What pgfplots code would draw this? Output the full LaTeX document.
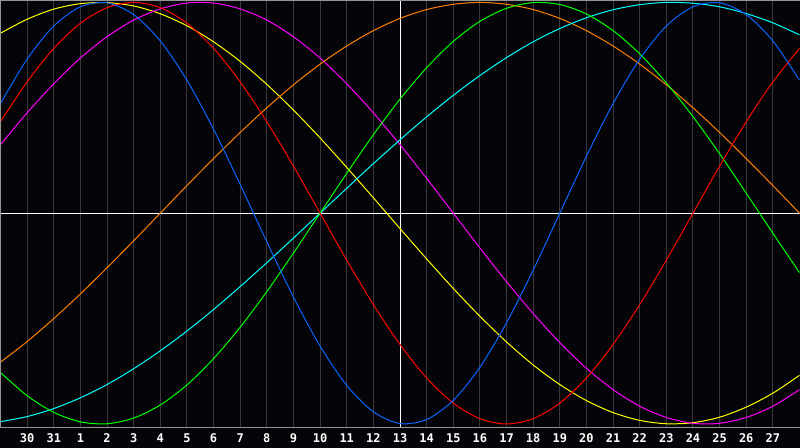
\documentclass[border=0pt]{standalone}
\usepackage{pgfplots}
\pgfplotsset{compat=1.18}
\usepackage{fontspec}
\setmonofont{DejaVu Sans Mono}

\definecolor{bg}{RGB}{5,5,9}
\definecolor{gridc}{RGB}{58,58,62}
\definecolor{framec}{RGB}{150,150,150}
\definecolor{cyellow}{RGB}{255,255,0}
\definecolor{cblue}{RGB}{10,100,255}
\definecolor{cred}{RGB}{255,0,0}
\definecolor{cmagenta}{RGB}{255,0,255}
\definecolor{corange}{RGB}{255,128,0}
\definecolor{cgreen}{RGB}{0,255,0}
\definecolor{ccyan}{RGB}{0,255,255}

\begin{document}
\begin{tikzpicture}
\fill[bg] (0pt,-20pt) rectangle (800pt,428pt);
\begin{axis}[
    at={(0pt,0pt)}, anchor=south west,
    scale only axis, width=800pt, height=428pt,
    xmin=0, xmax=30, ymin=-1.019, ymax=1.009,
    axis line style={draw=none},
    xtick={1,...,29},
    xticklabels={30,31,1,2,3,4,5,6,7,8,9,10,11,12,13,14,15,16,17,18,19,20,21,22,23,24,25,26,27},
    ytick=\empty,
    major tick length=0pt,
    xmajorgrids, grid style={gridc, line width=1pt},
    xticklabel style={text=white, font=\ttfamily\bfseries\fontsize{12}{12}\selectfont, anchor=north, yshift=-2pt},
    every axis plot/.append style={line width=1pt, smooth, no markers},
]
\draw[white, line width=1pt] (axis cs:15,-1.1) -- (axis cs:15,1.1);
\draw[white, line width=1pt] (axis cs:0,0) -- (axis cs:30,0);

% 43 days
\addplot[cyellow] coordinates {(0,0.854)(1,0.920)(2,0.968)(3,0.994)(4,0.999)(5,0.983)(6,0.946)(7,0.889)(8,0.813)(9,0.720)(10,0.611)(11,0.489)(12,0.357)(13,0.217)(14,0.073)(15,-0.073)(16,-0.217)(17,-0.357)(18,-0.489)(19,-0.611)(20,-0.720)(21,-0.813)(22,-0.889)(23,-0.946)(24,-0.983)(25,-0.999)(26,-0.994)(27,-0.968)(28,-0.920)(29,-0.854)(30,-0.769)};
% 38 days
\addplot[cmagenta] coordinates {(0,0.325)(1,0.476)(2,0.614)(3,0.736)(4,0.837)(5,0.916)(6,0.969)(7,0.997)(8,0.997)(9,0.969)(10,0.916)(11,0.837)(12,0.736)(13,0.614)(14,0.476)(15,0.325)(16,0.165)(17,0)(18,-0.165)(19,-0.325)(20,-0.476)(21,-0.614)(22,-0.736)(23,-0.837)(24,-0.916)(25,-0.969)(26,-0.997)(27,-0.997)(28,-0.969)(29,-0.916)(30,-0.837)};
% 48 days
\addplot[corange] coordinates {(0,-0.707)(1,-0.609)(2,-0.5)(3,-0.383)(4,-0.259)(5,-0.131)(6,0)(7,0.131)(8,0.259)(9,0.383)(10,0.5)(11,0.609)(12,0.707)(13,0.793)(14,0.866)(15,0.924)(16,0.966)(17,0.991)(18,1)(19,0.991)(20,0.966)(21,0.924)(22,0.866)(23,0.793)(24,0.707)(25,0.609)(26,0.5)(27,0.383)(28,0.259)(29,0.131)(30,0)};
% 53 days
\addplot[ccyan] coordinates {(0,-0.989)(1,-0.965)(2,-0.927)(3,-0.876)(4,-0.813)(5,-0.738)(6,-0.653)(7,-0.559)(8,-0.457)(9,-0.348)(10,-0.235)(11,-0.118)(12,0)(13,0.118)(14,0.235)(15,0.348)(16,0.457)(17,0.559)(18,0.653)(19,0.738)(20,0.813)(21,0.876)(22,0.927)(23,0.965)(24,0.989)(25,1.000)(26,0.996)(27,0.979)(28,0.947)(29,0.903)(30,0.846)};
% 33 days
\addplot[cgreen] coordinates {(0,-0.756)(1,-0.866)(2,-0.945)(3,-0.990)(4,-0.999)(5,-0.972)(6,-0.910)(7,-0.815)(8,-0.690)(9,-0.541)(10,-0.372)(11,-0.189)(12,0)(13,0.189)(14,0.372)(15,0.541)(16,0.690)(17,0.815)(18,0.910)(19,0.972)(20,0.999)(21,0.990)(22,0.945)(23,0.866)(24,0.756)(25,0.618)(26,0.458)(27,0.282)(28,0.095)(29,-0.095)(30,-0.282)};
% 28 days
\addplot[cred] coordinates {(0,0.434)(1,0.623)(2,0.782)(3,0.901)(4,0.975)(5,1)(6,0.975)(7,0.901)(8,0.782)(9,0.623)(10,0.434)(11,0.223)(12,0)(13,-0.223)(14,-0.434)(15,-0.623)(16,-0.782)(17,-0.901)(18,-0.975)(19,-1)(20,-0.975)(21,-0.901)(22,-0.782)(23,-0.623)(24,-0.434)(25,-0.223)(26,0)(27,0.223)(28,0.434)(29,0.623)(30,0.782)};
% 23 days
\addplot[cblue] coordinates {(0,0.520)(1,0.731)(2,0.888)(3,0.979)(4,0.998)(5,0.942)(6,0.817)(7,0.631)(8,0.398)(9,0.136)(10,-0.136)(11,-0.398)(12,-0.631)(13,-0.817)(14,-0.942)(15,-0.998)(16,-0.979)(17,-0.888)(18,-0.731)(19,-0.520)(20,-0.270)(21,0)(22,0.270)(23,0.520)(24,0.731)(25,0.888)(26,0.979)(27,0.998)(28,0.942)(29,0.817)(30,0.631)};
\end{axis}
\draw[framec, line width=1pt] (0.5pt,0pt) -- (0.5pt,427.5pt) -- (800pt,427.5pt);
\draw[framec, line width=1pt] (0pt,0pt) -- (800pt,0pt);
\end{tikzpicture}
\end{document}
